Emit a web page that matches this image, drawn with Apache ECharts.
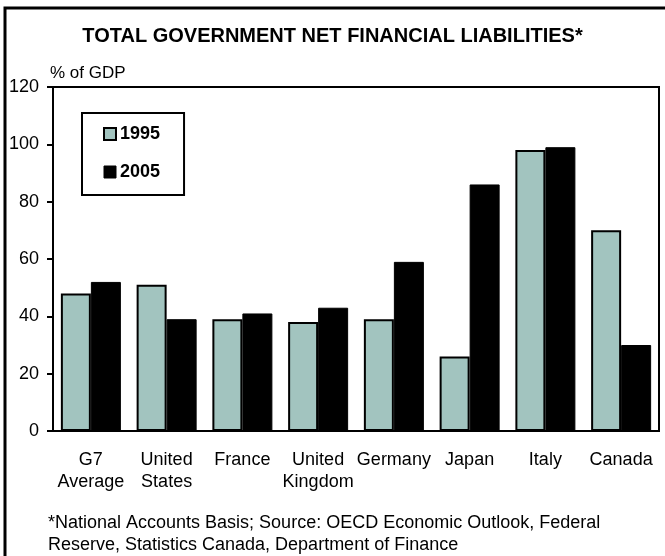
<!DOCTYPE html>
<html>
<head>
<meta charset="utf-8">
<script src="https://cdn.jsdelivr.net/npm/echarts@6/dist/echarts.min.js"></script>
<style>
html,body{margin:0;padding:0;background:#fff;}
#chart{width:665px;height:556px;}
</style>
</head>
<body>
<div id="chart"></div>
<script>
// Net financial liabilities, % of GDP
var categories = ['G7\nAverage', 'United\nStates', 'France', 'United\nKingdom', 'Germany', 'Japan', 'Italy', 'Canada'];
var values1995 = [48, 51, 39, 38, 39, 26, 98, 70];
var values2005 = [52, 39, 41, 43, 59, 86, 99, 30];
var yTicks = { min: 0, max: 120, step: 20 };

var FONT = '"Liberation Sans", Arial, sans-serif';
var chart = echarts.init(document.getElementById('chart'));

chart.setOption({
  backgroundColor: '#ffffff',
  animation: false,
  textStyle: { fontFamily: FONT, color: '#000' },
  title: {
    text: 'TOTAL GOVERNMENT NET FINANCIAL LIABILITIES*',
    left: 'center',
    top: 21,
    textStyle: { fontFamily: FONT, fontSize: 20, fontWeight: 'bold', color: '#000' }
  },
  grid: {
    left: 53, top: 87, right: 6, bottom: 125,
    show: true, borderColor: '#000', borderWidth: 2, backgroundColor: 'transparent'
  },
  legend: {
    orient: 'vertical',
    left: 82, top: 113,
    padding: [12, 24, 14, 21],
    itemGap: 20,
    itemWidth: 12, itemHeight: 12,
    borderColor: '#000', borderWidth: 2,
    selectedMode: false,
    textStyle: { fontFamily: FONT, fontSize: 18, fontWeight: 'bold', color: '#000', padding: [0, 0, 0, -1] },
    data: [
      { name: '1995', icon: 'rect', itemStyle: { color: '#a2c4bf', borderColor: '#000', borderWidth: 2 } },
      { name: '2005', icon: 'rect', itemStyle: { color: '#000', borderColor: '#000', borderWidth: 1 } }
    ]
  },
  xAxis: {
    type: 'category',
    data: categories,
    axisLine: { show: true, lineStyle: { color: '#000', width: 2 } },
    axisTick: { show: false },
    axisLabel: { fontFamily: FONT, fontSize: 18, color: '#000', margin: 18, lineHeight: 22, interval: 0 }
  },
  yAxis: {
    type: 'value',
    min: yTicks.min, max: yTicks.max, interval: yTicks.step,
    splitLine: { show: false },
    axisLine: { show: true, lineStyle: { color: '#000', width: 2 } },
    axisTick: { show: true, inside: false, length: 6, lineStyle: { color: '#000', width: 2 } },
    axisLabel: { fontFamily: FONT, fontSize: 18, color: '#000', margin: 14 }
  },
  series: [
    {
      name: '1995', type: 'bar', data: values1995,
      barWidth: 30, barGap: '0%',
      itemStyle: { color: '#a2c4bf', borderColor: '#000', borderWidth: 2 }
    },
    {
      name: '2005', type: 'bar', data: values2005,
      barWidth: 30, barGap: '0%',
      itemStyle: { color: '#000', borderColor: '#000', borderWidth: 1 }
    }
  ],
  graphic: [
    // page frame (left and top edges)
    { type: 'polyline', shape: { points: [[5, 556], [5, 8], [665, 8]] }, style: { stroke: '#000', lineWidth: 3, fill: null } },
    // unit label above the value axis
    {
      type: 'text', left: 50, top: 65,
      style: { text: '% of GDP', font: '17px ' + FONT, fill: '#000' }
    },
    {
      type: 'text', left: 48, top: 512,
      style: {
        text: '*National Accounts Basis; Source: OECD Economic Outlook, Federal\nReserve, Statistics Canada, Department of Finance',
        font: '18px ' + FONT, fill: '#000', lineHeight: 22
      }
    }
  ]
});
</script>
</body>
</html>
